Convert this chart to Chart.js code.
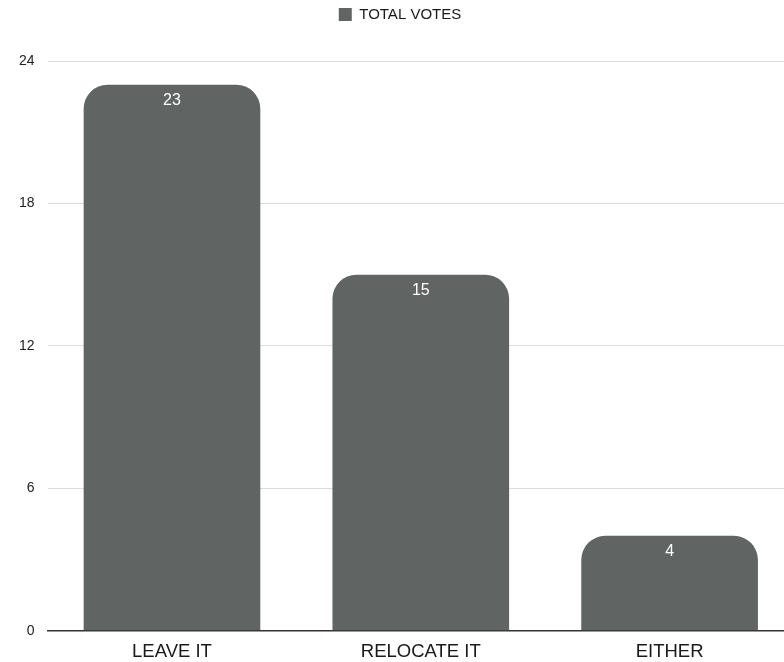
<!DOCTYPE html>
<html lang="en">
<head>
    <meta charset="UTF-8">
    <title>Total Votes</title>
    <script src="https://cdn.jsdelivr.net/npm/chart.js"></script>
    <style>
        html, body { margin: 0; padding: 0; overflow: hidden; background: #fff; }
        .chart-container { width: 794px; height: 662px; }
    </style>
</head>
<body>
    <div class="chart-container">
        <canvas id="votesChart"></canvas>
    </div>

    <script>
        const categories = ['LEAVE IT', 'RELOCATE IT', 'EITHER'];
        const totalVotes = [23, 15, 4];
        const yTicks = [0, 6, 12, 18, 24];

        const fontFamily = '"Liberation Sans", Arial, sans-serif';

        // draws the value inside the top of each bar
        const valueLabels = {
            id: 'valueLabels',
            afterDatasetsDraw(chart) {
                const c = chart.ctx;
                const meta = chart.getDatasetMeta(0);
                c.save();
                c.fillStyle = '#ffffff';
                c.font = '16px ' + fontFamily;
                c.textAlign = 'center';
                c.textBaseline = 'middle';
                meta.data.forEach((bar, i) => {
                    c.fillText(String(totalVotes[i]), bar.x, bar.y + 16);
                });
                c.restore();
            }
        };

        // extra room below the legend
        const legendGap = {
            id: 'legendGap',
            beforeInit(chart) {
                const fit = chart.legend.fit;
                chart.legend.fit = function () {
                    fit.bind(chart.legend)();
                    this.height += 29;
                };
            }
        };

        const ctx = document.getElementById('votesChart').getContext('2d');
        new Chart(ctx, {
            type: 'bar',
            data: {
                labels: categories,
                datasets: [{
                    label: 'TOTAL VOTES',
                    data: totalVotes,
                    backgroundColor: '#606462',
                    borderRadius: { topLeft: 24, topRight: 24 },
                    borderSkipped: 'bottom',
                    categoryPercentage: 1,
                    barPercentage: 0.71
                }]
            },
            options: {
                responsive: true,
                maintainAspectRatio: false,
                animation: false,
                layout: { padding: { top: 1, left: 6, right: 0, bottom: -11 } },
                scales: {
                    x: {
                        grid: { display: false, drawTicks: false },
                        border: { display: true, color: '#333333', width: 1.5 },
                        ticks: {
                            color: '#1a1a1a',
                            padding: 10,
                            font: { family: fontFamily, size: 18.5 }
                        }
                    },
                    y: {
                        min: 0,
                        max: 24,
                        afterBuildTicks(axis) {
                            axis.ticks = yTicks.map(v => ({ value: v }));
                        },
                        grid: { color: '#dcdcdc', drawTicks: false },
                        border: { display: false },
                        ticks: {
                            color: '#222222',
                            padding: 13,
                            font: { family: fontFamily, size: 14 }
                        }
                    }
                },
                plugins: {
                    legend: {
                        position: 'top',
                        labels: {
                            color: '#1a1a1a',
                            boxWidth: 13,
                            boxHeight: 13,
                            padding: 6,
                            font: { family: fontFamily, size: 15 }
                        }
                    },
                    tooltip: { enabled: false }
                }
            },
            plugins: [valueLabels, legendGap]
        });
    </script>
</body>
</html>
